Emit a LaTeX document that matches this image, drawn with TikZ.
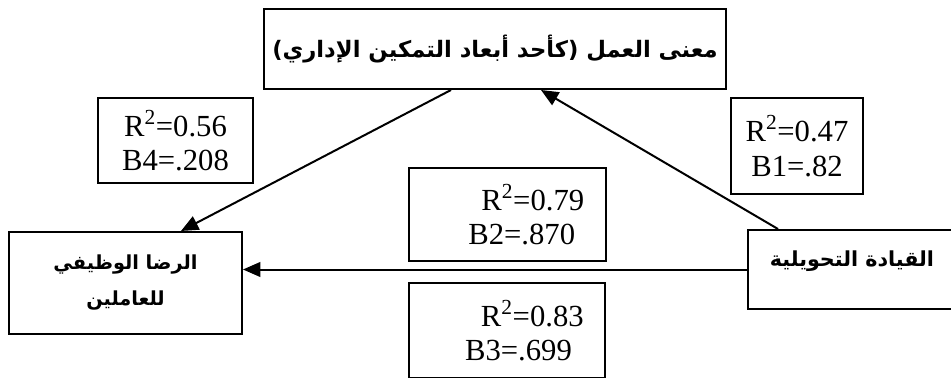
\documentclass[tikz,border=0pt]{standalone}
\usepackage{fontspec}
\setmainfont{Liberation Serif}
\newfontfamily\arabicfont[Script=Arabic]{DejaVu Sans}
\TeXXeTstate=1
\usetikzlibrary{arrows.meta}

\tikzset{
  box/.style={draw, line width=1.5pt, rectangle, inner sep=0pt, anchor=north west},
  coef/.style={box, align=center, font=\fontsize{23}{26}\selectfont},
  var/.style={box, align=center, font=\arabicfont\bfseries\fontsize{#1}{27}\selectfont},
  var/.default=15,
  link/.style={line width=1.5pt, -{Triangle[length=13pt,width=11pt]}}
}

\begin{document}
\begin{tikzpicture}[x=0.75pt, y=-0.75pt]
  \path[use as bounding box, clip] (0,0) rectangle (951,378);
  % variables
  \node[var=17, minimum width=346.5pt, minimum height=60pt] (meaning) at (263,8)
    {\beginR معنى العمل (كأحد أبعاد التمكين الإداري)\endR};
  \node[var=14.5, minimum width=174.75pt, minimum height=76.5pt] (satisf) at (8,231)
    {\beginR الرضا الوظيفي\endR\\\beginR للعاملين\endR};
  \node[var=15.5, minimum width=156pt, text height=27pt, text depth=32.25pt] (lead) at (747,229)
    {\beginR القيادة التحويلية\endR};
  % coefficients
  \node[coef, minimum width=116.25pt, minimum height=63.75pt] (r56) at (97,97)
    {R\textsuperscript{2}=0.56\\B4=.208};
  \node[coef, minimum width=99pt, minimum height=72pt] (r47) at (730,97)
    {R\textsuperscript{2}=0.47\\B1=.82};
  \node[coef, minimum width=147.75pt, minimum height=69.75pt] (r79) at (408,167)
    {\hspace*{1.65em}R\textsuperscript{2}=0.79\\\hspace*{0.93em}B2=.870};
  \node[coef, minimum width=147pt, minimum height=71.25pt] (r83) at (408,282)
    {\hspace*{1.65em}R\textsuperscript{2}=0.83\\\hspace*{0.75em}B3=.699};
  % paths
  \draw[link] ([xshift=-33pt]meaning.south) -- ([xshift=41.6pt]satisf.north);
  \draw[link] ([xshift=-55.5pt]lead.north) -- ([xshift=34.5pt]meaning.south);
  \draw[link] (lead.west) -- (lead.west -| satisf.east);
\end{tikzpicture}
\end{document}
